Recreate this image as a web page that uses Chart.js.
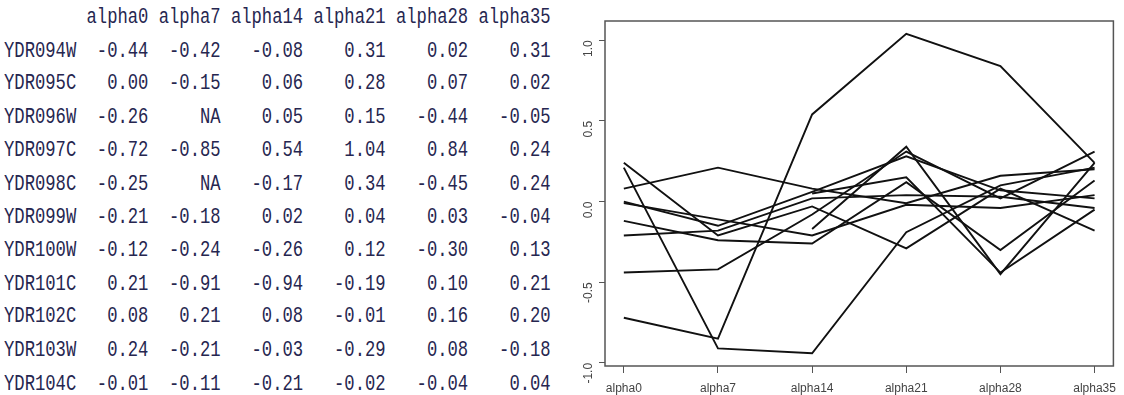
<!DOCTYPE html>
<html>
<head>
    <title>Alpha time course</title>
    <style>
        body { margin: 0; width: 1124px; height: 395px; background: #fff; overflow: hidden; position: relative; }
        #tbl {
            position: absolute; left: 4px; top: 1px; margin: 0;
            font-family: "Liberation Mono", monospace; font-size: 17.2px; line-height: 25.6px;
            color: #262650; transform: scaleY(1.3); transform-origin: 0 0;
        }
        #chartBox { position: absolute; left: 555px; top: 0; width: 569px; height: 395px; }
    </style>
    <script src="https://cdn.jsdelivr.net/npm/chart.js"></script>
</head>
<body>
    <pre id="tbl"></pre>
    <div id="chartBox"><canvas id="exprChart"></canvas></div>
    <script>
        // column names and gene names
        var categories = ['alpha0', 'alpha7', 'alpha14', 'alpha21', 'alpha28', 'alpha35'];
        var genes = ['YDR094W', 'YDR095C', 'YDR096W', 'YDR097C', 'YDR098C', 'YDR099W',
                     'YDR100W', 'YDR101C', 'YDR102C', 'YDR103W', 'YDR104C'];

        // one array per time point (null = NA)
        var alpha0  = [-0.44, 0.00, -0.26, -0.72, -0.25, -0.21, -0.12, 0.21, 0.08, 0.24, -0.01];
        var alpha7  = [-0.42, -0.15, null, -0.85, null, -0.18, -0.24, -0.91, 0.21, -0.21, -0.11];
        var alpha14 = [-0.08, 0.06, 0.05, 0.54, -0.17, 0.02, -0.26, -0.94, 0.08, -0.03, -0.21];
        var alpha21 = [0.31, 0.28, 0.15, 1.04, 0.34, 0.04, 0.12, -0.19, -0.01, -0.29, -0.02];
        var alpha28 = [0.02, 0.07, -0.44, 0.84, -0.45, 0.03, -0.30, 0.10, 0.16, 0.08, -0.04];
        var alpha35 = [0.31, 0.02, -0.05, 0.24, 0.24, -0.04, 0.13, 0.21, 0.20, -0.18, 0.04];

        var yTicks = [-1.0, -0.5, 0.0, 0.5, 1.0];

        var columns = [alpha0, alpha7, alpha14, alpha21, alpha28, alpha35];

        // print the table the way R does
        function fmt(v) { return v === null ? 'NA' : v.toFixed(2); }
        var lines = [];
        var head = '       ';
        categories.forEach(function (c) { head += ' ' + c; });
        lines.push(head);
        genes.forEach(function (g, i) {
            var line = g;
            columns.forEach(function (col, j) {
                line += ' ' + fmt(col[i]).padStart(categories[j].length);
            });
            lines.push(line);
        });
        document.getElementById('tbl').textContent = lines.join('\n');

        // box around the plot region
        var framePlugin = {
            id: 'frame',
            afterDraw: function (chart) {
                var a = chart.chartArea, c = chart.ctx;
                c.save();
                c.strokeStyle = '#555';
                c.lineWidth = 1.5;
                c.strokeRect(a.left, a.top, a.right - a.left, a.bottom - a.top);
                c.restore();
            }
        };

        var datasets = genes.map(function (g, i) {
            return {
                label: g,
                data: columns.map(function (col, j) { return { x: j + 1, y: col[i] }; }),
                borderColor: '#111',
                borderWidth: 1.9,
                pointRadius: 0,
                tension: 0,
                spanGaps: false
            };
        });

        var ctx = document.getElementById('exprChart').getContext('2d');
        new Chart(ctx, {
            type: 'line',
            data: { datasets: datasets },
            options: {
                responsive: true,
                maintainAspectRatio: false,
                animation: false,
                layout: { padding: { left: 0, right: 2, top: 21, bottom: 0 } },
                plugins: { legend: { display: false }, tooltip: { enabled: false } },
                scales: {
                    x: {
                        type: 'linear', min: 0.8, max: 6.2,
                        afterBuildTicks: function (axis) {
                            axis.ticks = categories.map(function (c, i) { return { value: i + 1 }; });
                        },
                        afterFit: function (axis) { axis.height = 29; },
                        ticks: {
                            callback: function (v) { return categories[v - 1]; },
                            color: '#444', font: { family: 'Liberation Sans', size: 12 },
                            maxRotation: 0, autoSkip: false, padding: 8
                        },
                        grid: { drawOnChartArea: false, tickLength: 7, color: '#555' },
                        border: { display: false }
                    },
                    y: {
                        min: -1.019, max: 1.119,
                        afterBuildTicks: function (axis) {
                            axis.ticks = yTicks.map(function (v) { return { value: v }; });
                        },
                        afterFit: function (axis) { axis.width = 50; },
                        ticks: {
                            callback: function (v) { return v.toFixed(1); },
                            color: '#444', font: { family: 'Liberation Sans', size: 12 },
                            minRotation: 90, maxRotation: 90, padding: 10
                        },
                        grid: { drawOnChartArea: false, tickLength: 6, color: '#555' },
                        border: { display: false }
                    }
                }
            },
            plugins: [framePlugin]
        });
    </script>
</body>
</html>
